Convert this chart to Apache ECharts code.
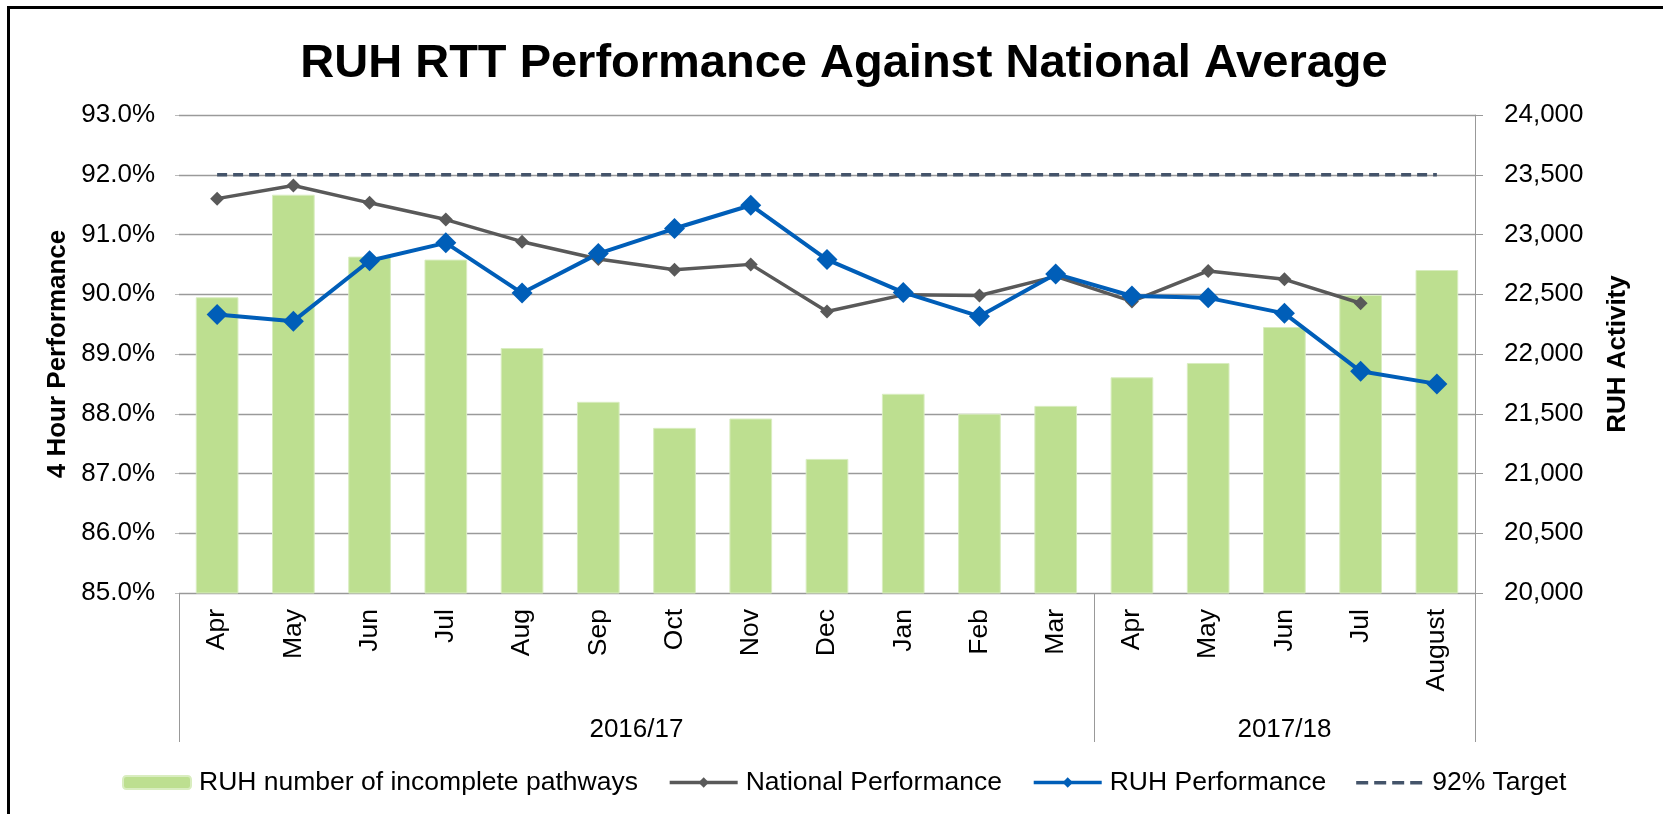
<!DOCTYPE html>
<html>
<head>
<meta charset="utf-8">
<script src="https://cdn.jsdelivr.net/npm/echarts@6/dist/echarts.min.js"></script>
<style>
  html, body { margin: 0; padding: 0; background: #fff; }
  #charts { width: 1663px; height: 814px; }
  #frame { position: absolute; left: 7px; top: 6px; width: 1700px; height: 900px;
           border-left: 3px solid #000; border-top: 3px solid #000; pointer-events: none; }
</style>
</head>
<body>
<div id="charts"></div>
<div id="frame"></div>
<script>
const months = ['Apr', 'May', 'Jun', 'Jul', 'Aug', 'Sep', 'Oct', 'Nov', 'Dec', 'Jan', 'Feb', 'Mar',
  'Apr', 'May', 'Jun', 'Jul', 'August']
const years = ['2016/17', '2017/18']
const yearSpans = [12, 5]

const activity = [22475, 23333, 22815, 22790, 22050, 21600, 21382, 21460, 21122, 21667, 21500, 21566,
  21805, 21925, 22226, 22494, 22703]
const national = [91.60, 91.82, 91.53, 91.25, 90.88, 90.59, 90.41, 90.50, 89.71, 89.99, 89.98, 90.30,
  89.88, 90.39, 90.25, 89.85, null]
const ruh = [89.66, 89.55, 90.56, 90.86, 90.02, 90.68, 91.10, 91.49, 90.58, 90.03, 89.63, 90.34,
  89.97, 89.94, 89.68, 88.71, 88.50]
const target = [92, 92, 92, 92, 92, 92, 92, 92, 92, 92, 92, 92, 92, 92, 92, 92, 92]

// the year row: half-month slots so group labels can sit between or on months
const halfSlots = []
const groupEdges = [0]
let start = 0
years.forEach((y, i) => {
  const mid = start * 2 + yearSpans[i]
  for (let k = halfSlots.length; k < mid; k++) halfSlots.push('')
  halfSlots.push(y)
  start += yearSpans[i]
  groupEdges.push(start * 2)
})
while (halfSlots.length <= start * 2) halfSlots.push('')

const font = 'Liberation Sans, Arial, sans-serif'
const txt = { color: '#000', fontFamily: font, fontSize: 26 }

// legend icon for the dashed target: four dashes, with tiny corner dots to keep the box
const dashIcon = 'path://M0,0h0.01v0.01h-0.01z M68,13h-0.01v-0.01h0.01z ' +
  'M0,5h12v3.5h-12z M18,5h12v3.5h-12z M36,5h12v3.5h-12z M54,5h12v3.5h-12z'

const myChart = echarts.init(document.getElementById('charts'))
const option = {
  animation: false,
  textStyle: { fontFamily: font },
  title: {
    text: 'RUH RTT Performance Against National Average',
    left: 839,
    textAlign: 'center',
    top: 36,
    textStyle: { fontFamily: font, fontSize: 47, fontWeight: 'bold', color: '#000' }
  },
  legend: {
    left: 117,
    top: 764,
    itemWidth: 68,
    itemHeight: 13,
    itemGap: 30,
    lineStyle: { width: 3.5 },
    textStyle: { ...txt, fontSize: 26.5, padding: [0, 0, 0, 3] },
    data: [
      'RUH number of incomplete pathways',
      'National Performance',
      'RUH Performance',
      { name: '92% Target', icon: dashIcon }
    ]
  },
  grid: { left: 179, right: 188, top: 115, bottom: 221 },
  xAxis: [
    {
      type: 'category',
      data: months,
      position: 'bottom',
      axisLine: { lineStyle: { color: '#999', width: 1 } },
      axisTick: { show: false },
      axisLabel: { ...txt, fontSize: 26.5, rotate: 90, margin: 16, interval: 0 }
    },
    {
      type: 'category',
      data: halfSlots,
      position: 'bottom',
      offset: 0,
      boundaryGap: false,
      axisLine: { show: false },
      axisTick: {
        show: true,
        length: 149,
        interval: (idx) => groupEdges.includes(idx),
        lineStyle: { color: '#999', width: 1 }
      },
      axisLabel: { ...txt, interval: 0, margin: 124 }
    }
  ],
  yAxis: [
    {
      type: 'value',
      min: 85,
      max: 93,
      interval: 1,
      name: '4 Hour Performance',
      nameLocation: 'middle',
      nameGap: 108,
      nameTextStyle: { ...txt, fontWeight: 'bold' },
      axisLine: { show: false },
      axisTick: { show: true, length: 4, lineStyle: { color: '#bbb' } },
      axisLabel: { ...txt, margin: 24, formatter: v => v.toFixed(1) + '%' },
      splitLine: { lineStyle: { color: '#9a9a9a', width: 1.3 } }
    },
    {
      type: 'value',
      min: 20000,
      max: 24000,
      interval: 500,
      name: 'RUH Activity',
      nameLocation: 'middle',
      nameGap: 130,
      nameTextStyle: { ...txt, fontWeight: 'bold' },
      axisLine: { show: true, lineStyle: { color: '#999' } },
      axisTick: { show: true, length: 8, lineStyle: { color: '#999' } },
      axisLabel: { ...txt, margin: 29, formatter: v => v.toLocaleString('en-US') },
      splitLine: { show: false }
    }
  ],
  series: [
    {
      name: 'RUH number of incomplete pathways',
      type: 'bar',
      yAxisIndex: 1,
      barWidth: '56%',
      itemStyle: { color: '#bddf90', borderColor: '#d9edc0', borderWidth: 1 },
      data: activity
    },
    {
      name: 'National Performance',
      type: 'line',
      symbol: 'diamond',
      symbolSize: 14,
      lineStyle: { color: '#595959', width: 3.5 },
      itemStyle: { color: '#595959' },
      data: national
    },
    {
      name: 'RUH Performance',
      type: 'line',
      symbol: 'diamond',
      symbolSize: 21,
      lineStyle: { color: '#005eb8', width: 4 },
      itemStyle: { color: '#005eb8' },
      data: ruh
    },
    {
      name: '92% Target',
      type: 'line',
      symbol: 'none',
      lineStyle: { color: '#44546a', width: 3.5, type: [10, 6] },
      itemStyle: { color: '#44546a' },
      data: target
    }
  ]
}
myChart.setOption(option)
</script>
</body>
</html>
